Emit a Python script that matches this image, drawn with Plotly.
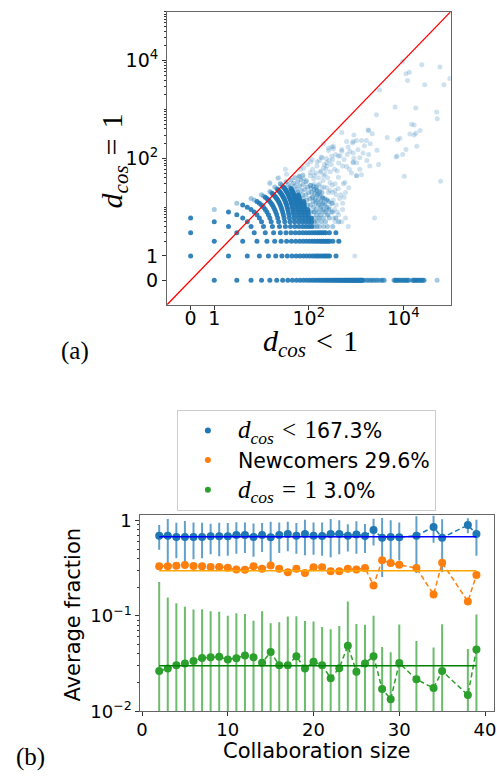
import numpy as np
import plotly.graph_objects as go

W, H = 497, 784
BLUE, ORANGE, GREEN = "#1f77b4", "#ff7f0e", "#2ca02c"
SANS = "DejaVu Sans"
SERIF = "Liberation Serif"
REL_SP = "\u2004"  # math spacing around relation signs

# ---------------- (a) author pairs per collaboration ----------------
# team size -> largest frequently observed number of d_cos = 1 pairs (all counts 0..top seen)
common_top = {2: 1, 3: 3, 4: 6, 5: 8, 6: 11, 7: 13, 8: 16, 9: 19, 10: 23,
              11: 26, 12: 24, 13: 18, 14: 13, 15: 9, 16: 6}
# team size -> d_cos = 1 pair counts observed only occasionally
occasional_d1 = {5: [9], 6: [12], 7: [14, 15], 8: [17, 18], 9: [20, 21], 10: [24, 26],
                 11: [28, 30], 12: [26, 29, 33], 13: [20, 23, 27, 31, 36],
                 14: [15, 18, 22, 27, 33, 40], 15: [11, 14, 18, 23, 29, 36, 42],
                 16: [8, 11, 15, 20, 26, 33, 45]}
# larger teams: observed d_cos = 1 pair counts
large_d1 = {17: [1, 2, 3, 4, 5, 6, 8, 10, 13, 16, 20, 24, 28],
            18: [1, 2, 3, 4, 5, 7, 9, 12, 15, 19, 23, 27],
            19: [1, 2, 3, 4, 6, 8, 11, 14, 18, 22, 26],
            20: [1, 2, 3, 5, 7, 10, 13, 17, 21],
            21: [1, 2, 3, 4, 6, 9, 12, 16, 20],
            22: [1, 2, 3, 5, 8, 11, 15],
            23: [1, 2, 4, 7, 10, 14],
            24: [1, 2, 3, 6, 9, 13],
            26: [2, 4, 8, 12],
            28: [1, 3, 6],
            30: [2, 5]}
# team sizes where every pair has d_cos < 1
no_d1_common = list(range(17, 54))
no_d1_occasional = [55, 57, 59, 60, 62, 64, 65, 67, 69, 70, 73, 75, 76, 79, 82, 84, 86, 88, 90,
                    113, 115, 116, 118, 119, 121, 123, 125, 127, 129, 131, 134, 136, 139,
                    141, 144, 146, 149, 151, 154, 156, 159, 161, 163,
                    177, 179, 181, 184, 186, 189, 191, 194, 197, 200, 203, 206, 209,
                    213, 216, 220, 223, 227, 230, 233, 236, 323]
# scattered large collaborations: (d_cos < 1 pairs, d_cos = 1 pairs)
cloud_lt1 = [9700, 24600, 59500, 11400, 13400, 12300, 28400, 72400, 96700, 3150,
             2700, 6700, 18400, 50700, 52400, 14900, 17000, 22700, 13800, 18400,
             17000, 8500, 7600, 4570, 1850, 500, 1020, 1300, 1650, 2770,
             1850, 11400, 9700, 7400, 19300, 10500, 61600, 7000, 3000, 1950,
             870, 500, 333, 262, 307, 843, 870, 1200, 1300, 1020,
             630, 540, 458, 234, 184, 205, 117, 108, 78, 67,
             283, 2470, 32, 34, 149, 190, 205, 261, 332, 497,
             631, 871, 1800, 423, 307, 241, 283, 108, 127, 62,
             78, 205, 423, 583, 360, 1023, 871, 1023, 741, 1410,
             25, 274, 175, 205, 261, 332, 497, 684, 360, 190,
             261, 420, 944, 149, 222, 175, 15, 23, 15, 22,
             120, 140, 160, 180, 200, 220, 250, 150, 170, 230,
             300, 350, 400, 95, 110, 130, 160, 190, 240, 280,
             320, 380, 450, 520, 600, 700, 150, 200, 250, 300,
             350, 400, 140, 120, 241,
             130, 160, 180, 210, 240, 300, 330, 380, 430, 520,
             600, 150, 170, 210, 260, 310, 360, 420, 480, 560,
             130, 175, 215, 270, 320, 370, 430, 520, 560, 650,
             720, 800, 900, 1100, 1500, 2000, 680, 900, 2200, 1200,
             1700, 90, 110, 140, 165, 195]
cloud_eq1 = [9600, 8300, 7400, 5400, 5800, 3950, 3200, 3200, 4300, 2500,
             780, 1120, 1080, 890, 650, 500, 480, 370, 316, 326,
             300, 258, 240, 267, 370, 340, 232, 232, 232, 146,
             120, 151, 120, 111, 176, 43, 34, 106, 75, 70,
             84, 151, 158, 144, 171, 205, 129, 103, 46, 44,
             68, 30, 111, 99, 106, 63, 95, 51, 63, 60,
             32, 6, 60, 47, 70, 103, 199, 163, 176, 140,
             221, 221, 380, 111, 111, 70, 53, 44, 38, 44,
             38, 44, 41, 32, 30, 81, 81, 44, 140, 129,
             30, 10, 11, 8, 7, 6, 5, 4, 5, 2,
             2, 2, 1, 1, 1, 3, 30, 40, 32, 39,
             60, 50, 40, 55, 35, 48, 40, 85, 90, 60,
             75, 60, 55, 75, 85, 30, 28, 25, 25, 22,
             20, 18, 15, 12, 20, 25, 18, 15, 14, 12,
             9, 8, 13, 16, 81,
             8, 6, 9, 12, 9, 8, 14, 11, 7, 9,
             6, 22, 30, 26, 20, 28, 22, 24, 18, 16,
             45, 52, 75, 90, 95, 120, 80, 70, 95, 120,
             60, 50, 100, 150, 180, 200, 170, 300, 320, 60,
             90, 35, 28, 24, 19, 15]
axis_limits_a = [-1, 1e5]
tick_values_a = [0, 1, 100, 10000]
tick_labels_a = ["0", "1", "10<sup>2</sup>", "10<sup>4</sup>"]

# ---------------- (b) average fractions vs collaboration size ----------------
collab_size = [2, 3, 4, 5, 6, 7, 8, 9, 10, 11, 12, 13, 14, 15, 16, 17, 18, 19, 20, 21,
               22, 23, 24, 25, 26, 27, 28, 29, 30, 32, 34, 35, 38, 39]
frac_lt1 = [0.69, 0.69, 0.67, 0.67, 0.67, 0.67, 0.68, 0.68, 0.68, 0.70, 0.70, 0.67,
            0.70, 0.665, 0.70, 0.72, 0.69, 0.72, 0.69, 0.685, 0.72, 0.72, 0.69, 0.71,
            0.685, 0.79, 0.655, 0.67, 0.665, 0.69, 0.85, 0.655, 0.89, 0.72]
err_lt1 = [0.20, 0.34, 0.27, 0.31, 0.28, 0.27, 0.24, 0.26, 0.255, 0.255, 0.245, 0.255,
           0.235, 0.30, 0.245, 0.245, 0.245, 0.29, 0.255, 0.26, 0.31, 0.28, 0.22, 0.265,
           0.23, 0.245, 0.40, 0.33, 0.285, 0.41, 0.27, 0.37, 0.16, 0.295]
frac_new = [0.33, 0.33, 0.335, 0.34, 0.332, 0.33, 0.325, 0.325, 0.318, 0.305, 0.303, 0.331,
            0.31, 0.336, 0.31, 0.286, 0.31, 0.28, 0.322, 0.322, 0.293, 0.293, 0.31, 0.305,
            0.316, 0.208, 0.382, 0.356, 0.342, 0.316, 0.167, 0.359, 0.141, 0.268]
frac_eq1 = [0.0264, 0.028, 0.0304, 0.0316, 0.0337, 0.0361, 0.0367, 0.0372, 0.0348, 0.036,
            0.0385, 0.0367, 0.0323, 0.0417, 0.0304, 0.0304, 0.0376, 0.028, 0.033, 0.0304,
            0.0222, 0.0283, 0.0487, 0.026, 0.0316, 0.0378, 0.0171, 0.0134, 0.032, 0.0216,
            0.0175, 0.0264, 0.0148, 0.0443]
err_eq1 = [0.20, 0.127, 0.105, 0.093, 0.083, 0.081, 0.075, 0.073, 0.065, 0.07,
           0.066, 0.052, 0.079, 0.042, 0.055, 0.068, 0.061, 0.06, 0.054, 0.046,
           0.05, 0.05, 0.092, 0.056, 0.049, 0.062, 0.030, 0.028, 0.049, 0.033,
           0.029, 0.055, 0.030, 0.059]
share_lt1, share_new, share_eq1 = 0.673, 0.296, 0.030


def n_pairs(n):
    return n * (n - 1) // 2


def symlog(v):
    """Symmetric log scale: linear (half a decade wide) on [-1, 1], log10 outside."""
    v = np.asarray(v, dtype=float)
    a = np.abs(v)
    return np.where(a <= 1, v / 2, np.sign(v) * (0.5 + np.log10(np.maximum(a, 1))))


common_x, common_y, occ_x, occ_y = [], [], [], []
for n, top in common_top.items():
    for k in range(top + 1):
        common_x.append(n_pairs(n) - k)
        common_y.append(k)
for n, ks in occasional_d1.items():
    for k in ks:
        occ_x.append(n_pairs(n) - k)
        occ_y.append(k)
for n, ks in large_d1.items():
    for k in ks:
        if k <= 3:
            common_x.append(n_pairs(n) - k)
            common_y.append(k)
        else:
            occ_x.append(n_pairs(n) - k)
            occ_y.append(k)
for n in no_d1_common:
    common_x.append(n_pairs(n))
    common_y.append(0)
for n in no_d1_occasional:
    occ_x.append(n_pairs(n))
    occ_y.append(0)

fig = go.Figure()

for xs, ys, op in [(cloud_lt1, cloud_eq1, 0.22), (occ_x, occ_y, 0.4), (common_x, common_y, 0.9)]:
    fig.add_trace(go.Scatter(
        x=symlog(xs), y=symlog(ys), mode="markers", xaxis="x", yaxis="y",
        marker=dict(color=BLUE, size=5, opacity=op, line_width=0),
        showlegend=False, hoverinfo="skip"))

fig.add_trace(go.Scatter(
    x=symlog(axis_limits_a), y=symlog(axis_limits_a), mode="lines", xaxis="x", yaxis="y",
    line=dict(color="red", width=1.3), showlegend=False, hoverinfo="skip"))

# ---- (b) ----
series = [
    (frac_lt1, err_lt1, BLUE, "rgba(31,119,180,0.7)", share_lt1, "blue"),
    (frac_new, None, ORANGE, None, share_new, "orange"),
    (frac_eq1, err_eq1, GREEN, "rgba(44,160,44,0.7)", share_eq1, "#008000"),
]
for vals, err, col, ecol, share, lcol in series:
    kw = {}
    if err is not None:
        kw["error_y"] = dict(type="data", array=err, visible=True, color=ecol,
                             thickness=2, width=0)
    fig.add_trace(go.Scatter(
        x=collab_size, y=vals, mode="lines+markers", xaxis="x2", yaxis="y2",
        line=dict(color=col, width=1.5, dash="5px,3px"),
        marker=dict(color=col, size=8), showlegend=False, hoverinfo="skip", **kw))
    fig.add_trace(go.Scatter(
        x=[collab_size[0], collab_size[-1]], y=[share, share], mode="lines",
        xaxis="x2", yaxis="y2", line=dict(color=lcol, width=1.6),
        showlegend=False, hoverinfo="skip"))

d_cos = "<i>d</i><sub><i>cos</i></sub>"
lt_one = f"{d_cos}{REL_SP}&lt;{REL_SP}1"
eq_one = f"{d_cos}{REL_SP}={REL_SP}1"
math_style = f"font-family:{SERIF};font-size:25px"
legend_names = [
    (f'<span style="{math_style}">{lt_one}</span>{share_lt1 * 100:.1f}%', BLUE),
    (f"Newcomers {share_new * 100:.1f}%", ORANGE),
    (f'<span style="{math_style}">{eq_one}</span> {share_eq1 * 100:.1f}%', GREEN),
]
for name, col in legend_names:
    fig.add_trace(go.Scatter(x=[None], y=[None], mode="markers", xaxis="x2", yaxis="y2",
                             marker=dict(color=col, size=6), name=name))

frame = dict(showline=True, mirror=True, linecolor="#666666", linewidth=1,
             showgrid=False, zeroline=False, ticks="outside", tickcolor="#333333",
             ticklen=4, tickwidth=1, ticklabeloverflow="allow")

minor_a = [m * 10 ** k for k in range(0, 5) for m in range(2, 11)]

fig.update_layout(
    width=W, height=H, margin=dict(l=0, r=0, t=0, b=0, pad=0),
    paper_bgcolor="white", plot_bgcolor="white",
    font=dict(family=SANS, color="black"),
    xaxis=dict(domain=[165 / W, 452 / W], anchor="y", range=list(symlog(axis_limits_a)),
               tickmode="array", tickvals=list(symlog(tick_values_a)), ticktext=tick_labels_a,
               tickfont=dict(size=19), ticklabelstandoff=-8, **frame),
    yaxis=dict(domain=[1 - 305 / H, 1 - 6 / H], anchor="x", range=list(symlog(axis_limits_a)),
               tickmode="array", tickvals=list(symlog(tick_values_a)), ticktext=tick_labels_a,
               tickfont=dict(size=19),
               minor=dict(tickvals=list(symlog(minor_a)), ticks="outside", ticklen=2,
                          tickcolor="#333333"),
               **frame),
    xaxis2=dict(domain=[138 / W, 496 / W], anchor="y2", range=[-0.2, 41.05],
                tickmode="array", tickvals=[0, 10, 20, 30, 40], tickfont=dict(size=18),
                ticklabelstandoff=-2, **frame),
    yaxis2=dict(domain=[1 - 720 / H, 1 - 520 / H], anchor="x2", type="log", range=[-2, 0.051],
                tickmode="array", tickvals=[0.01, 0.1, 1],
                ticktext=["10<sup>\u22122</sup>", "10<sup>\u22121</sup>", "1"],
                tickfont=dict(size=18),
                minor=dict(tickvals=[m / 100 for m in range(2, 10)] + [m / 10 for m in range(2, 10)],
                           ticks="outside", ticklen=2, tickcolor="#333333"),
                **frame),
    legend=dict(x=175 / W, y=1 - 412 / H, xanchor="left", yanchor="top",
                bordercolor="#cccccc", borderwidth=1, bgcolor="white",
                font=dict(family=SANS, size=20.5, color="black"), itemwidth=50,
                tracegroupgap=0),
    showlegend=True,
)

ann = [
    dict(text=lt_one, x=310, y=344, size=30, family=SERIF, angle=0),
    dict(text=eq_one, x=111, y=158, size=30, family=SERIF, angle=-90),
    dict(text="(a)", x=72, y=352, size=25, family=SERIF, angle=0),
    dict(text="(b)", x=27, y=767, size=25, family=SERIF, angle=0),
    dict(text="Average fraction", x=70, y=621, size=21, family=SANS, angle=-90),
    dict(text="Collaboration size", x=316, y=761, size=21, family=SANS, angle=0),
]
for a in ann:
    fig.add_annotation(text=a["text"], x=a["x"] / W, y=1 - a["y"] / H, xref="paper", yref="paper",
                       xanchor="center", yanchor="middle", showarrow=False, textangle=a["angle"],
                       font=dict(size=a["size"], family=a["family"], color="black"))

fig.write_html("out.html")
